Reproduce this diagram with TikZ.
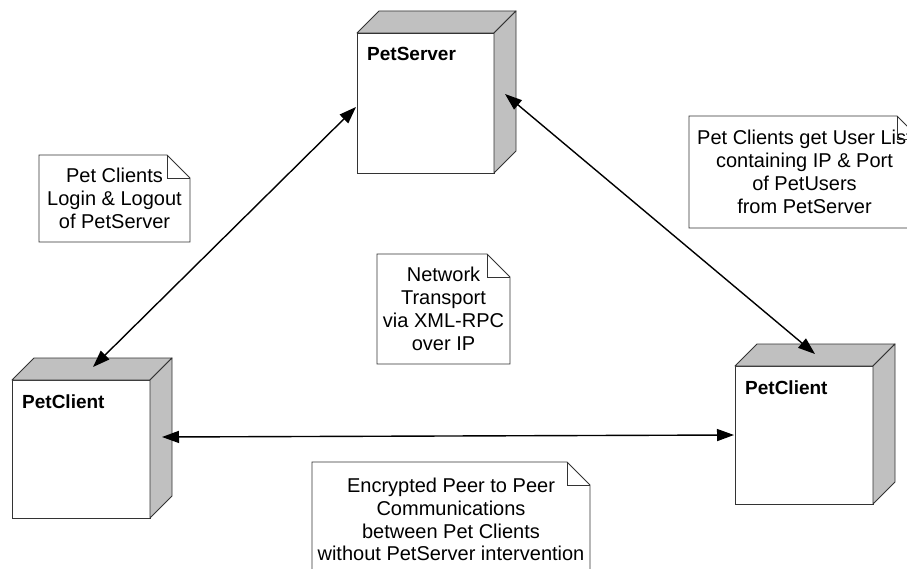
\documentclass[tikz,border=0pt]{standalone}
\usepackage{fontspec}
\setmainfont{Liberation Sans}
\usetikzlibrary{calc,arrows.meta}
\definecolor{sidegray}{HTML}{C0C0C0}
\definecolor{edgecol}{HTML}{333333}
\tikzset{
  front/.style={draw=edgecol, fill=white, line width=0.9pt, rectangle, inner sep=0pt, outer sep=0pt},
  face/.style={draw=edgecol, fill=sidegray, line width=0.9pt, line join=round},
  devlabel/.style={anchor=base west, font=\fontsize{19}{22}\selectfont\bfseries, inner sep=0pt},
  notebox/.style={rectangle, inner sep=0pt, outer sep=0pt, align=center, font=\fontsize{20}{22.8}\selectfont},
  noteline/.style={draw=edgecol, line width=0.8pt, line join=miter},
  link/.style={line width=1.4pt, {Triangle[length=17pt,width=12pt]}-{Triangle[length=17pt,width=12pt]}},
}
\newcommand\mydev[5]{%
  \node[front, minimum width=#3, minimum height=#4] (#1) at (#2) {};
  \path[face] (#1.north west) -- ++(22,-22) -- ($(#1.north east)+(22,-22)$) -- (#1.north east) -- cycle;
  \path[face] (#1.north east) -- ++(22,-22) -- ($(#1.south east)+(22,-22)$) -- (#1.south east) -- cycle;
  \node[devlabel] (#1-l) at ($(#1.north west)+(10,28)$) {#5};
}
\newcommand\mynote[5]{%
  \node[notebox, minimum width=#3, minimum height=#4] (#1) at (#2) {#5};
  \path[noteline] (#1.south west) -- (#1.north west) -- ($(#1.north east)+(-23,0)$)
     -- ($(#1.north east)+(0,23)$) -- (#1.south east) -- cycle;
  \path[noteline] ($(#1.north east)+(-23,0)$) -- ($(#1.north east)+(-23,23)$) -- ($(#1.north east)+(0,23)$);
}
\begin{document}
\begin{tikzpicture}[x=1pt,y=-1pt]
\useasboundingbox (0,0) rectangle (907,569);
\clip (0,0) rectangle (907,569);
\fill[white] (0,0) rectangle (907,569);

\mydev{srv}{425.5,103}{137pt}{140pt}{PetServer}
\mydev{lc}{81,449}{138pt}{138pt}{PetClient}
\mydev{rc}{804,435}{138pt}{138pt}{PetClient}

\mynote{nlogin}{114.5,198.5}{151pt}{87pt}{Pet Clients\\Login \& Logout\\of PetServer}
\mynote{nnet}{443.5,309}{133pt}{110pt}{Network\\Transport\\via XML-RPC\\over IP}
\mynote{nlist}{804.5,172}{231pt}{112pt}{Pet Clients get User List\\containing IP \& Port\\of PetUsers\\from PetServer}
\mynote{npeer}{451,519.5}{278pt}{115pt}{Encrypted Peer to Peer\\Communications\\between Pet Clients\\without PetServer intervention}

\draw[link] ($(srv.north west)+(-1,74)$) -- ($(lc.north west)+(81,-13)$);
\draw[link] ($(srv.north east)+(11,61)$) -- ($(rc.north west)+(80,-12)$);
\draw[link] ($(lc.north east)+(12,57)$) -- ($(rc.north west)+(-1,69)$);
\end{tikzpicture}
\end{document}
